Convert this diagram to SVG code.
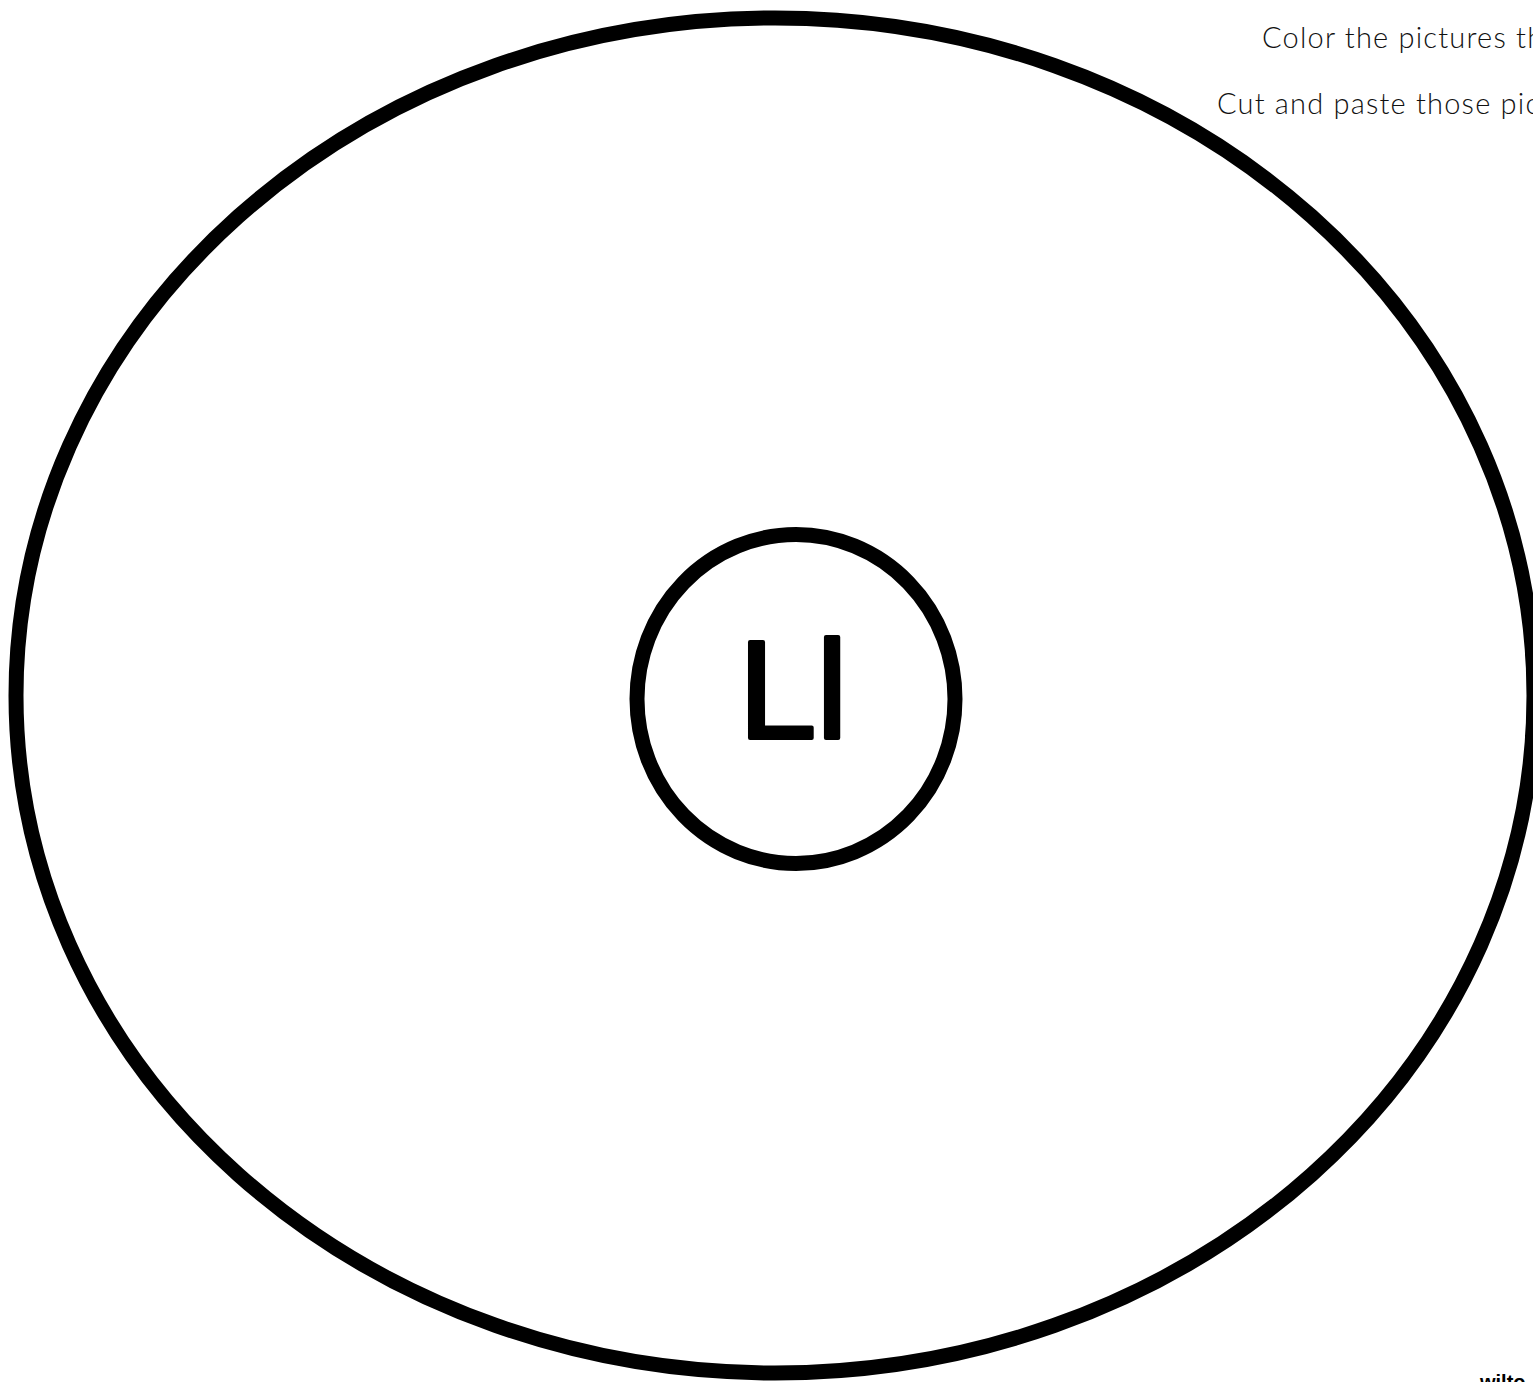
<svg xmlns="http://www.w3.org/2000/svg" width="1533" height="1382" viewBox="0 0 1533 1382">
<style>
.ring{fill:none;stroke:#000;stroke-width:15}
.inst{font-family:"Lato","Liberation Sans",sans-serif;font-weight:300;font-size:29px;letter-spacing:1.2px;fill:#111}
.big{font-family:"Liberation Sans",sans-serif;font-size:140px;fill:#000;stroke:#000;stroke-width:4;stroke-linejoin:round}
.foot{font-family:"Liberation Sans",sans-serif;font-weight:bold;font-size:20px;fill:#000}
</style>
<rect width="1533" height="1382" fill="#fff"/>
<g id="outer"><ellipse class="ring" cx="775" cy="695.5" rx="759" ry="677.5"/></g>
<g id="center"><ellipse class="ring" cx="796" cy="699" rx="159" ry="164.5"/>
<text class="big" x="793" y="738" text-anchor="middle">Ll</text></g>
<g id="instructions">
<text class="inst" x="1262" y="48">Color the pictures th</text>
<text class="inst" x="1217" y="114">Cut and paste those pic</text>
</g>
<g id="footer"><text class="foot" x="1480" y="1389">wilto</text></g>
<g id="connectors"/>
</svg>
